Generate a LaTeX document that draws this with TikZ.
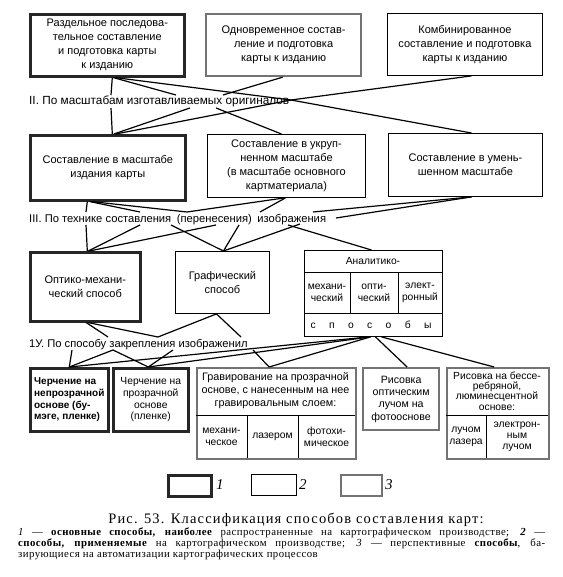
\documentclass[tikz,border=0pt]{standalone}
\usepackage{fontspec}
\setmainfont{Liberation Serif}
\setsansfont{Liberation Sans}
\newfontfamily\capfont{Liberation Serif}[LetterSpace=8]
\newfontfamily\legfont{Liberation Serif}[LetterSpace=4]
\usetikzlibrary{calc}
\tikzset{
  box/.style={draw, rectangle, inner sep=1pt, align=center, anchor=north west,
    font=\sffamily\fontsize{11}{14}\selectfont},
  boxA/.style={box, line width=2.6pt, draw=black!85},
  boxB/.style={box, line width=0.9pt},
  boxC/.style={box, line width=2.2pt, draw=black!55},
  lbl/.style={font=\sffamily\fontsize{11.8}{13}\selectfont, anchor=base west, inner sep=0pt},
  cell/.style={font=\sffamily\fontsize{10.3}{12}\selectfont, align=center, inner sep=0pt},
  conn/.style={line width=1.2pt},
  divl/.style={line width=0.9pt},
}
\begin{document}
\begin{tikzpicture}[x=1pt,y=-1pt]
\fill[white] (0,0) rectangle (562,577);
\useasboundingbox (0,0) rectangle (562,577);

% ---- Level I
\node[boxA, minimum width=154pt, minimum height=62pt] (B1) at (29,13)
  {Раздельное последова-\\тельное составление\\и подготовка карты\\к изданию};
\node[boxC, minimum width=155pt, minimum height=62pt] (B2) at (205,13)
  {Одновременное состав-\\ление и подготовка\\карты к изданию};
\node[boxB, minimum width=155pt, minimum height=62pt] (B3) at (387,13)
  {Комбинированное\\составление и подготовка\\карты к изданию};

\node[lbl] (L2) at (29,105) {II. По масштабам изготавливаемых оригиналов};

% ---- Level II
\node[boxA, minimum width=155pt, minimum height=65pt] (C1) at (29,134)
  {Составление в масштабе\\издания карты};
\node[boxB, minimum width=158pt, minimum height=63pt] (C2) at (207,134)
  {Составление в укруп-\\ненном масштабе\\(в масштабе основного\\картматериала)};
\node[boxB, minimum width=154pt, minimum height=63pt] (C3) at (388,133)
  {Составление в умень-\\шенном масштабе};

\node[lbl, font=\sffamily\fontsize{11.2}{13}\selectfont] (L3) at (29,222) {III. По технике составления\hspace{0.5em}(перенесения)\hspace{0.5em}изображения};

% ---- Level III
\node[boxA, minimum width=110pt, minimum height=69pt] (D1) at (29,251)
  {Оптико-механи-\\ческий способ};
\node[boxB, minimum width=94pt, minimum height=62pt] (D2) at (175,251)
  {Графический\\способ};
\node[boxB, minimum width=138pt, minimum height=86pt] (D3) at (304,250) {};
\draw[divl] (304,272) -- (442,272);
\draw[divl] (304,313) -- (442,313);
\draw[divl] (350,272) -- (350,313);
\draw[divl] (398,272) -- (398,313);
\node[cell] (D3h) at (373,261) {Аналитико-};
\node[cell] (D3a) at (327,292.5) {механи-\\ческий};
\node[cell] (D3b) at (374,292.5) {опти-\\ческий};
\node[cell] (D3c) at (420,292.5) {элект-\\ронный};
\node[cell] (D3d) at (371,324.5) {с\hspace{1.3em}п\hspace{1.3em}о\hspace{1.3em}с\hspace{1.3em}о\hspace{1.3em}б\hspace{1.3em}ы};

\node[lbl, font=\sffamily\fontsize{11.2}{13}\selectfont] (L4) at (29,347) {1У. По способу закрепления изображенил};

% ---- Level IV
\node[boxA, minimum width=78pt, minimum height=63pt, align=left,
  font=\sffamily\bfseries\fontsize{10}{11.7}\selectfont] (E1) at (29,367)
  {Черчение на\\непрозрачной\\основе (бу-\\мэге, пленке)};
\node[boxA, minimum width=75pt, minimum height=63pt,
  font=\sffamily\fontsize{10.3}{11.7}\selectfont] (E2) at (112,367)
  {Черчение на\\прозрачной\\основе\\(пленке)};
\node[boxC, minimum width=159pt, minimum height=91pt] (E3) at (196,367) {};
\draw[divl] (196,415) -- (355,415);
\draw[divl] (247,415) -- (247,458);
\draw[divl] (298,415) -- (298,458);
\node[cell, font=\sffamily\fontsize{10.8}{13}\selectfont] (E3h) at (275.5,391)
  {Гравирование на прозрачной\\основе, с нанесенным на нее\\гравировальным слоем:};
\node[cell] (E3a) at (221.5,437) {механи-\\ческое};
\node[cell] (E3b) at (272.5,437) {лазером};
\node[cell] (E3c) at (326.5,437) {фотохи-\\мическое};
\node[boxC, minimum width=76pt, minimum height=62pt,
  font=\sffamily\fontsize{10.6}{12.3}\selectfont] (E4) at (362,367)
  {Рисовка\\оптическим\\лучом на\\фотооснове};
\node[boxC, minimum width=102pt, minimum height=91pt] (E5) at (446,367) {};
\draw[divl] (446,415) -- (548,415);
\draw[divl] (486,415) -- (486,458);
\node[cell, font=\sffamily\fontsize{10.3}{10.4}\selectfont] (E5h) at (497,391)
  {Рисовка на бессе-\\ребряной,\\люминесцентной\\основе:};
\node[cell] (E5a) at (466,437) {лучом\\лазера};
\node[cell, font=\sffamily\fontsize{10.3}{11}\selectfont] (E5b) at (517,437) {электрон-\\ным\\лучом};

% ---- points on the level labels
\coordinate (p2a) at (111,95);
\coordinate (p2b) at (176,95);
\coordinate (p2c) at (223,95);
\coordinate (p2e) at (291,100);
\coordinate (q2a) at (111,108);
\coordinate (q2b) at (190,108);
\coordinate (q2c) at (216,108);

\coordinate (p3a) at (86,212);
\coordinate (p3b) at (140,212);
\coordinate (p3c) at (187,212);
\coordinate (p3d) at (260,212);
\coordinate (p3e) at (313,212);
\coordinate (p3f) at (336,218);
\coordinate (q3a) at (86,225);
\coordinate (q3b) at (140,225);
\coordinate (q3c) at (216,225);
\coordinate (q3d) at (171,225);
\coordinate (q3e) at (239,225);
\coordinate (q3f) at (300,224);
\coordinate (q3g) at (288,225);

\coordinate (p4a) at (108,337);
\coordinate (p4b) at (158,337);
\coordinate (p4c) at (241,337);
\coordinate (q4a) at (72,350);
\coordinate (q4b) at (113,350);
\coordinate (q4c) at (173,350);
\coordinate (q4d) at (253,350);

% ---- connectors I -> II
\draw[conn] ([xshift=5pt]B1.south) -- (p2a);
\draw[conn] ([xshift=6pt]B1.south) -- (p2b);
\draw[conn] ([xshift=8pt]B1.south) -- (p2e);
\draw[conn] ([xshift=-1pt]B2.south) -- (p2c);
\draw[conn] ([xshift=6.5pt]B3.south) -- (p2e);
\draw[conn] (q2a) -- ([xshift=4.5pt]C1.north);
\draw[conn] ([xshift=6pt]C1.north) -- (q2b);
\draw[conn] ([xshift=8pt]C1.north) -- (p2e);
\draw[conn] (q2c) -- ([xshift=-5pt]C2.north);
\draw[conn] (p2e) -- ([xshift=6pt]C3.north);

% ---- connectors II -> III
\draw[conn] ([xshift=-20.5pt]C1.south) -- (p3a);
\draw[conn] ([xshift=-18pt]C1.south) -- (p3b);
\draw[conn] ([xshift=-16pt]C1.south) -- (p3c);
\draw[conn] ([xshift=-2pt]C2.south) -- (p3c);
\draw[conn] ([xshift=-1pt]C2.south) -- (p3d);
\draw[conn] ([xshift=6pt]C3.south) -- (p3e);
\draw[conn] ([xshift=6pt]C3.south) -- (p3f);
\draw[conn] (q3a) -- ([xshift=2pt]D1.north);
\draw[conn] ([xshift=3pt]D1.north) -- (q3b);
\draw[conn] ([xshift=4pt]D1.north) -- (q3c);
\draw[conn] (q3d) -- ([xshift=1pt]D2.north);
\draw[conn] (q3e) -- ([xshift=1pt]D2.north);
\draw[conn] (q3f) -- ([xshift=1pt]D2.north);
\draw[conn] (q3g) -- ([xshift=-2pt]D3.north);

% ---- connectors III -> IV
\draw[conn] ([xshift=1pt]D1.south) -- (p4a);
\draw[conn] ([xshift=3pt]D1.south) -- (p4b);
\draw[conn] ([xshift=-6pt]D2.south) -- (p4b);
\draw[conn] ([xshift=-6pt]D2.south) -- (p4c);
\draw[conn] (q4a) -- (E1.north);
\draw[conn] (q4b) -- (E1.north);
\draw[conn] (q4b) -- ([xshift=-2.5pt]E2.north);
\draw[conn] (q4c) -- ([xshift=-2.5pt]E2.north);
\draw[conn] (q4d) -- ([xshift=-7.5pt]E3.north);
\draw[conn] ([xshift=-5pt]D3.south) -- (E1.north);
\draw[conn] ([xshift=-3pt]D3.south) -- ([xshift=-2.5pt]E2.north);
\draw[conn] ([xshift=-3pt]D3.south) -- ([xshift=-7.5pt]E3.north);
\draw[conn] ([xshift=2pt]D3.south) -- ([xshift=6pt]E4.north);
\draw[conn] ([xshift=8pt]D3.south) -- ([xshift=-4pt]E5.north);

% ---- legend
\node[box, line width=2.6pt, draw=black!85, minimum width=43pt, minimum height=21pt] (K1) at (167,474) {};
\node[anchor=west, font=\itshape\fontsize{15}{15}\selectfont, inner sep=0pt] (K1t) at (216,485) {1};
\node[boxB, minimum width=45pt, minimum height=21pt] (K2) at (251,474) {};
\node[anchor=west, font=\itshape\fontsize{15}{15}\selectfont, inner sep=0pt] (K2t) at (299,485) {2};
\node[boxC, minimum width=41pt, minimum height=21pt] (K3) at (340,474) {};
\node[anchor=west, font=\itshape\fontsize{15}{15}\selectfont, inner sep=0pt] (K3t) at (385,485) {3};

\node[anchor=base, inner sep=0pt, font=\capfont\fontsize{14.5}{15}\selectfont] (cap) at (296,523)
  {Рис. 53. Классификация способов составления карт:};
\node[anchor=north west, inner sep=0pt, text width=527pt, align=justify,
  font=\legfont\fontsize{10.8}{11}\selectfont] (leg) at (18,528)
  {\textit{1} — \textbf{основные способы, наиболее} распространенные на картографическом производстве; \textbf{\textit{2}} —\linebreak
   \textbf{способы, применяемые} на картографическом производстве; \textit{3} — перспективные \textbf{способы}, ба-\linebreak
   зирующиеся на автоматизации картографических процессов};
\end{tikzpicture}
\end{document}
